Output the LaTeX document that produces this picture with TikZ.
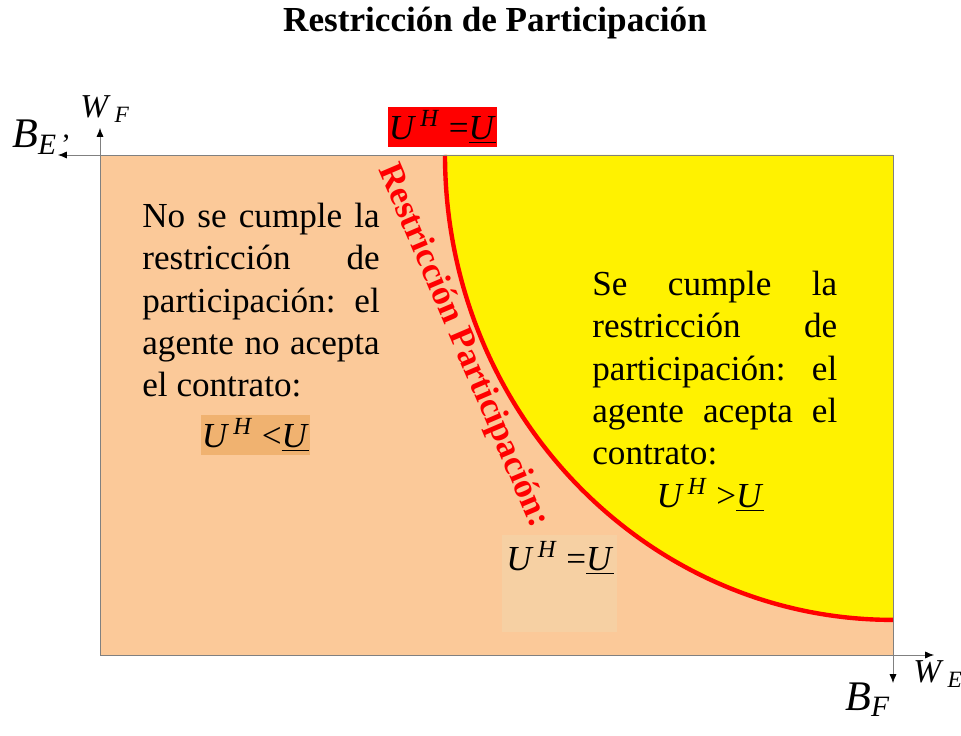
\documentclass[tikz,border=0pt]{standalone}
\usepackage{fontspec}
\setmainfont{Liberation Serif}
\usetikzlibrary{positioning,arrows.meta}
\definecolor{peach}{RGB}{251,201,153}
\definecolor{peachdark}{RGB}{240,178,112}
\definecolor{peachlight}{RGB}{246,208,163}
\newcommand{\bigtxt}{\fontsize{20}{24}\selectfont}
\newcommand{\uh}{\textit{U}\textsuperscript{\,\textit{H}}}
\newcommand{\ulev}{\underline{\textit{U}}}

\begin{document}
\begin{tikzpicture}[x=0.02cm,y=-0.02cm,
  axis/.style={draw=gray,thin,-{Latex[black,length=5pt,width=4pt]}},
  body/.style={font=\bigtxt,text=black,inner sep=0pt,anchor=north west,align=justify},
  ubox/.style={minimum width=2.18cm,minimum height=0.8cm,inner sep=0pt,font=\bigtxt},
  axlab/.style={anchor=base west,inner sep=0pt}]
\useasboundingbox (0,0) rectangle (961,736);

\node[font=\bfseries\bigtxt] (title) at (495,23) {Restricción de Participación};

% regions
\fill[peach] (100,155) rectangle (893,655);
\fill[yellow] (445,155) arc[start angle=180,end angle=270,x radius=8.96cm,y radius=9.3cm] -- (893,155) -- cycle;
\fill[peachlight] (502,535) rectangle (617,632);
\draw[red,line width=2.5pt] (445,155) arc[start angle=180,end angle=270,x radius=8.96cm,y radius=9.3cm];

% axes
\coordinate (O) at (100,655);
\coordinate (TR) at (893,155);
\coordinate (wf) at (100,128);
\coordinate (be) at (58,155);
\coordinate (we) at (934,655);
\coordinate (bf) at (893,683);
\draw[axis] (O) -- (wf);
\draw[axis] (O) -- (we);
\draw[axis] (TR) -- (be);
\draw[axis] (TR) -- (bf);

\node[axlab,font=\fontsize{19}{22}\selectfont] (wflab) at (80,118) {\textit{W}\textsubscript{\,\textit{F}}};
\node[axlab,font=\fontsize{24}{28}\selectfont] (belab) at (12,148) {\textit{B}\textsubscript{\textit{E}\,'}};
\node[axlab,font=\fontsize{19}{22}\selectfont] (welab) at (913,683) {\textit{W}\textsubscript{\,\textit{E}}};
\node[axlab,font=\fontsize{24}{28}\selectfont] (bflab) at (845,710) {\textit{B}\textsubscript{\textit{F}}};

% labels
\node[ubox,fill=red] (rbox) at (442.5,127) {\uh\ =\ulev};
\node[text=red,font=\bfseries\bigtxt,rotate=-66.9] (rp) at (463,346) {Restricción Participación:};

\node[body,text width=4.75cm] (notxt) at (142,203) {No se cumple la\linebreak restricción de\linebreak participación: el\linebreak agente no acepta\linebreak el contrato:};
\node[ubox,fill=peachdark] (lt) at (255.5,435) {\uh\ <\ulev};

\node[body,text width=4.9cm] (sitxt) at (592,271) {Se cumple la\linebreak restricción de\linebreak participación: el\linebreak agente acepta el\linebreak contrato:};
\node[font=\bigtxt] (gt) at (710,495) {\uh\ >\ulev};

\node[font=\bigtxt] (eq) at (560,558) {\uh\ =\ulev};
\end{tikzpicture}
\end{document}
